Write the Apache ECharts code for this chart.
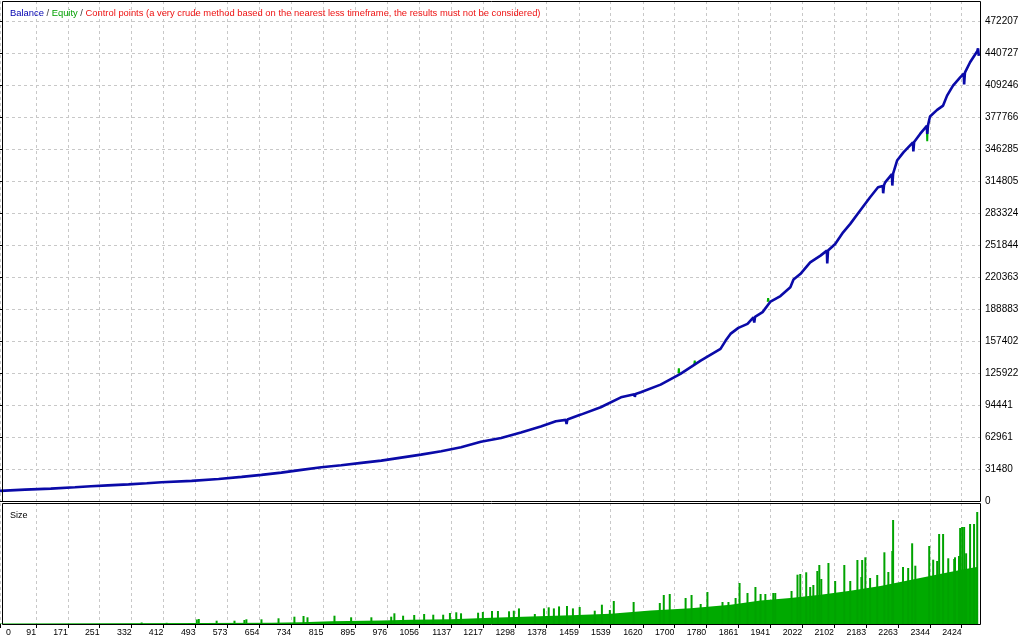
<!DOCTYPE html>
<html>
<head>
<meta charset="utf-8">
<script src="https://cdn.jsdelivr.net/npm/echarts@6/dist/echarts.min.js"></script>
<style>
html,body{margin:0;padding:0;background:#fff;}
#c{width:1024px;height:640px;}
</style>
</head>
<body>
<div id="c"></div>
<script>
// ---- data ----
const xTickLabels = ['0','91','171','251','332','412','493','573','654','734','815','895','976','1056','1137','1217','1298','1378','1459','1539','1620','1700','1780','1861','1941','2022','2102','2183','2263','2344','2424'];
const yTickLabels = ['0','31480','62961','94441','125922','157402','188883','220363','251844','283324','314805','346285','377766','409246','440727','472207'];

// balance curve: [trade #, balance]
const balance = [
[0,10000],[63,11200],[128,12200],[189,13500],[229,14500],[272,15400],[324,16400],[370,17400],[407,18400],[483,19800],
[551,21700],[609,23700],[659,25700],[709,27900],[760,30600],[810,33200],[860,35100],[911,37500],[961,39700],[1011,42700],
[1061,45600],[1112,48900],[1162,52800],[1212,58200],[1263,61900],[1313,67300],[1363,73200],[1401,78400],[1426,79800],[1428,75800],
[1430,80200],[1464,85000],[1514,92200],[1565,102000],[1599,105000],[1600,102500],[1602,105300],[1615,106900],[1665,114500],[1715,125000],
[1766,138100],[1816,149600],[1829,157800],[1841,164400],[1861,170300],[1884,174200],[1899,180700],[1901,175500],[1903,181200],[1922,185800],
[1942,196200],[1967,201600],[1992,210200],[2000,217800],[2017,223200],[2042,234800],[2068,241400],[2084,246300],[2085,233800],[2087,246500],
[2105,252900],[2125,264300],[2143,272600],[2168,285700],[2193,298800],[2213,308600],[2225,310000],[2226,302700],[2228,310500],[2231,313500],
[2248,321500],[2249,310300],[2251,322000],[2261,334900],[2277,343000],[2301,352800],[2302,344000],[2304,353200],[2319,361100],[2336,369000],
[2337,361100],[2339,369800],[2344,378200],[2362,384800],[2377,389000],[2387,398800],[2402,408700],[2420,416800],[2429,420500],[2430,409700],
[2432,421500],[2445,431600],[2463,442400],[2465,445300],[2467,438000]
];

// equity excursions visible beside the balance line
const equity = [
[1710,125500],[1711,130500],[1712,125800],[1713,'-'],
[1750,134500],[1751,138200],[1752,134800],[1753,'-'],
[1935,196000],[1936,199500],[1937,196500],[1938,'-'],
[2336,369000],[2337,353900],[2338,369500]
];

// position size: base level and individual larger trades
const sizeBase = [
[0,0.05],[257,0.08],[508,0.10],[684,0.13],[760,0.17],[835,0.28],[961,0.35],[1036,0.42],[1137,0.48],[1238,0.62],
[1338,0.75],[1439,0.88],[1539,1.02],[1640,1.35],[1741,1.58],[1841,1.92],[1917,2.34],[1992,2.60],[2068,2.93],[2143,3.33],
[2219,3.80],[2294,4.40],[2369,5.00],[2420,5.40],[2465,5.73]
];
const sizeSpikes = [
[357,0.15],[420,0.12],[496,0.45],[501,0.5],[546,0.33],[591,0.33],[616,0.4],[621,0.47],[659,0.47],[702,0.57],
[742,0.73],[765,0.8],[775,0.67],[843,0.83],[885,0.67],[936,0.67],[986,0.73],[994,1.07],[1016,0.83],[1044,0.9],
[1069,1.0],[1092,0.93],[1117,0.93],[1134,1.1],[1150,1.17],[1162,1.07],[1205,1.13],[1217,1.2],[1240,1.3],[1255,1.3],
[1283,1.27],[1295,1.33],[1308,1.56],[1348,1.0],[1371,1.56],[1383,1.67],[1396,1.56],[1409,1.76],[1429,1.8],[1444,1.56],
[1461,1.7],[1499,1.33],[1517,1.93],[1537,1.4],[1547,2.3],[1597,2.2],[1663,2.1],[1673,2.9],[1688,3.0],[1728,2.6],
[1743,2.9],[1766,2.0],[1783,3.2],[1821,2.2],[1836,2.2],[1854,2.6],[1864,4.1],[1884,3.1],[1904,3.7],[1917,3.0],
[1929,3.0],[1949,3.1],[1954,3.1],[1995,3.3],[2010,4.93],[2017,5.0],[2032,5.17],[2042,3.7],[2050,3.9],[2060,5.3],
[2065,5.9],[2070,4.5],[2088,6.1],[2105,4.3],[2128,5.9],[2143,4.3],[2161,6.4],[2171,4.7],[2173,6.4],[2181,6.67],
[2193,4.6],[2211,4.9],[2229,7.17],[2239,5.2],[2249,7.3],[2251,10.4],[2276,5.7],[2289,5.6],[2299,8.07],[2307,5.83],
[2342,7.8],[2352,6.43],[2362,6.3],[2367,9.0],[2377,9.0],[2390,6.57],[2405,6.5],[2407,6.67],[2417,6.8],[2420,9.6],
[2425,9.7],[2430,9.7],[2435,7.07],[2445,10.0],[2455,10.0],[2463,11.2]
];

// ---- chart ----
const xTickValues = xTickLabels.map(Number);
const yTickValues = yTickLabels.map(Number);
const FONT = 'Liberation Sans';
const TFS = 9.4;
const gridLine = {show:true, lineStyle:{color:'#c8c8c8', width:1, type:[3,3]}};

const chart = echarts.init(document.getElementById('c'), null, {renderer:'canvas'});
chart.setOption({
  animation:false,
  backgroundColor:'#ffffff',
  title:[
    {left:5, top:4,
     text:'{b|Balance}{s| / }{e|Equity}{s| / }{c|Control points (a very crude method based on the nearest less timeframe, the results must not be considered)}',
     textStyle:{fontFamily:FONT, fontSize:TFS, fontWeight:'normal',
       rich:{
         b:{color:'#0000b0', fontFamily:FONT, fontSize:TFS},
         s:{color:'#333333', fontFamily:FONT, fontSize:TFS},
         e:{color:'#00a000', fontFamily:FONT, fontSize:TFS},
         c:{color:'#ee1111', fontFamily:FONT, fontSize:TFS}
       }}},
    {left:5, top:506, text:'Size', textStyle:{fontFamily:FONT, fontSize:9, fontWeight:'normal', color:'#000'}}
  ],
  grid:[
    {left:-2, top:1, width:982, height:500, show:false},
    {left:-2, top:503, width:982, height:121, show:false}
  ],
  xAxis:[
    {gridIndex:0, type:'value', min:0, max:2470,
     axisLine:{show:false}, axisTick:{show:false, customValues:xTickValues},
     axisLabel:{show:false, customValues:xTickValues}, splitLine:gridLine},
    {gridIndex:1, type:'value', min:0, max:2470,
     axisLine:{show:false},
     axisTick:{show:true, customValues:xTickValues, length:4, lineStyle:{color:'#000'}},
     axisLabel:{customValues:xTickValues, align:'right', alignMinLabel:'left', margin:4,
       fontFamily:FONT, fontSize:8.8, color:'#000',
       formatter:function(v){ const s = xTickLabels[xTickValues.indexOf(v)]; return v===0 ? '{z|'+s+'}' : s; },
       rich:{z:{padding:[0,0,0,6], fontFamily:FONT, fontSize:8.8, color:'#000'}}},
     splitLine:gridLine}
  ],
  yAxis:[
    {gridIndex:0, type:'value', position:'right', min:0, max:472207*500/480,
     axisLine:{show:false},
     axisTick:{show:true, customValues:yTickValues, length:3, lineStyle:{color:'#000'}},
     axisLabel:{customValues:yTickValues, margin:5, fontFamily:FONT, fontSize:10, color:'#000',
       formatter:function(v){ return yTickLabels[yTickValues.indexOf(v)]; }},
     splitLine:gridLine},
    {gridIndex:1, type:'value', min:0, max:12.1, show:false, splitLine:{show:false}}
  ],
  series:[
    {name:'Equity', type:'line', xAxisIndex:0, yAxisIndex:0, data:equity, showSymbol:false,
     lineStyle:{color:'#00b000', width:2}, itemStyle:{color:'#00b000'}, z:2, connectNulls:false},
    {name:'Balance', type:'line', xAxisIndex:0, yAxisIndex:0, data:balance, showSymbol:false,
     lineStyle:{color:'#0a0aa8', width:2.6}, itemStyle:{color:'#0a0aa8'}, z:3},
    {name:'Size', type:'line', xAxisIndex:1, yAxisIndex:1, data:sizeBase, showSymbol:false,
     lineStyle:{width:0, color:'#00aa00'}, areaStyle:{color:'#00aa00', opacity:1}, z:2},
    {name:'Size spikes', type:'bar', xAxisIndex:1, yAxisIndex:1, data:sizeSpikes, barWidth:2,
     itemStyle:{color:'#00a300'}, z:3}
  ],
  graphic:[
    {type:'rect', silent:true, z:100, shape:{x:2.5, y:1.5, width:978, height:500}, style:{fill:null, stroke:'#000', lineWidth:1}},
    {type:'rect', silent:true, z:100, shape:{x:2.5, y:503.5, width:978, height:121}, style:{fill:null, stroke:'#000', lineWidth:1}}
  ]
});
</script>
</body>
</html>
